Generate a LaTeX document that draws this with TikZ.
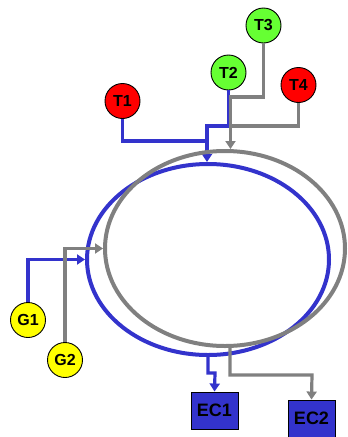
\documentclass[tikz,border=0pt]{standalone}
\usepackage{fontspec}
\setmainfont{Liberation Sans}
\usetikzlibrary{shapes.geometric, arrows.meta}
\definecolor{ringblue}{RGB}{51,51,204}
\definecolor{ringgray}{RGB}{128,128,128}
\definecolor{tred}{RGB}{255,0,0}
\definecolor{tgreen}{RGB}{102,255,51}
\definecolor{gyellow}{RGB}{255,255,0}

\begin{document}
\begin{tikzpicture}[
    x=1pt, y=-1pt,
    font=\bfseries\fontsize{16}{18}\selectfont,
    ring/.style={ellipse, draw, line width=4pt, inner sep=0pt},
    site/.style={circle, draw=black, line width=0.9pt, minimum size=35pt, inner sep=0pt},
    ecbox/.style={rectangle, draw=black, line width=0.9pt, fill=ringblue,
        minimum width=47pt, minimum height=37pt, inner sep=0pt,
        font=\bfseries\fontsize{18}{20}\selectfont},
    link/.style={line width=3.2pt},
    tip/.style={-{Triangle[width=10pt,length=8pt]}},
    bluelink/.style={link, ringblue},
    graylink/.style={link, ringgray}
]
\useasboundingbox (0,0) rectangle (348,437);

% ── Sites ─────────────────────────────────────────────────
\node[site, fill=tred]    (T1) at (122.5,101) {T1};
\node[site, fill=tgreen]  (T2) at (228.5,72.5) {T2};
\node[site, fill=tgreen]  (T3) at (263.5,25.5) {T3};
\node[site, fill=tred]    (T4) at (298.5,85) {T4};
\node[site, fill=gyellow] (G1) at (28,320) {G1};
\node[site, fill=gyellow] (G2) at (65,360) {G2};
\node[ecbox] (EC1) at (214.5,410.5) {EC1};
\node[ecbox] (EC2) at (311.5,418.5) {EC2};

% ── Blue ring and its links ───────────────────────────────
\node[ring, draw=ringblue, minimum width=242pt, minimum height=191pt] (blue) at (208,259.5) {};
\coordinate (jb1) at (207,141);
\coordinate (jb2) at (207,126);
\coordinate (xb)  at (215,373);
\draw[bluelink] (T2.south) |- (jb2) -- (jb1);
\draw[bluelink, tip] (T1.south) |- (jb1) -- (jb1 |- blue.north);
\draw[bluelink, tip] (G1.north) |- (blue.west);
\draw[bluelink, tip] (blue.south) |- (xb) -- (EC1.north);

% ── Gray ring and its links ───────────────────────────────
\node[ring, draw=ringgray, minimum width=240pt, minimum height=195pt] (gray) at (225,248.5) {};
\coordinate (jg3) at (230.5,97);
\coordinate (jg4) at (230.5,126);
\coordinate (xg)  at (312,375);
\draw[graylink] (T4.south) |- (jg4);
\draw[graylink, tip] (T3.south) |- (jg3) -- (jg3 |- gray.north);
\draw[graylink, tip] (G2.north) |- (gray.west);
\draw[graylink, tip] ([xshift=5pt]gray.south) |- (xg) -- (EC2.north);

\end{tikzpicture}
\end{document}
